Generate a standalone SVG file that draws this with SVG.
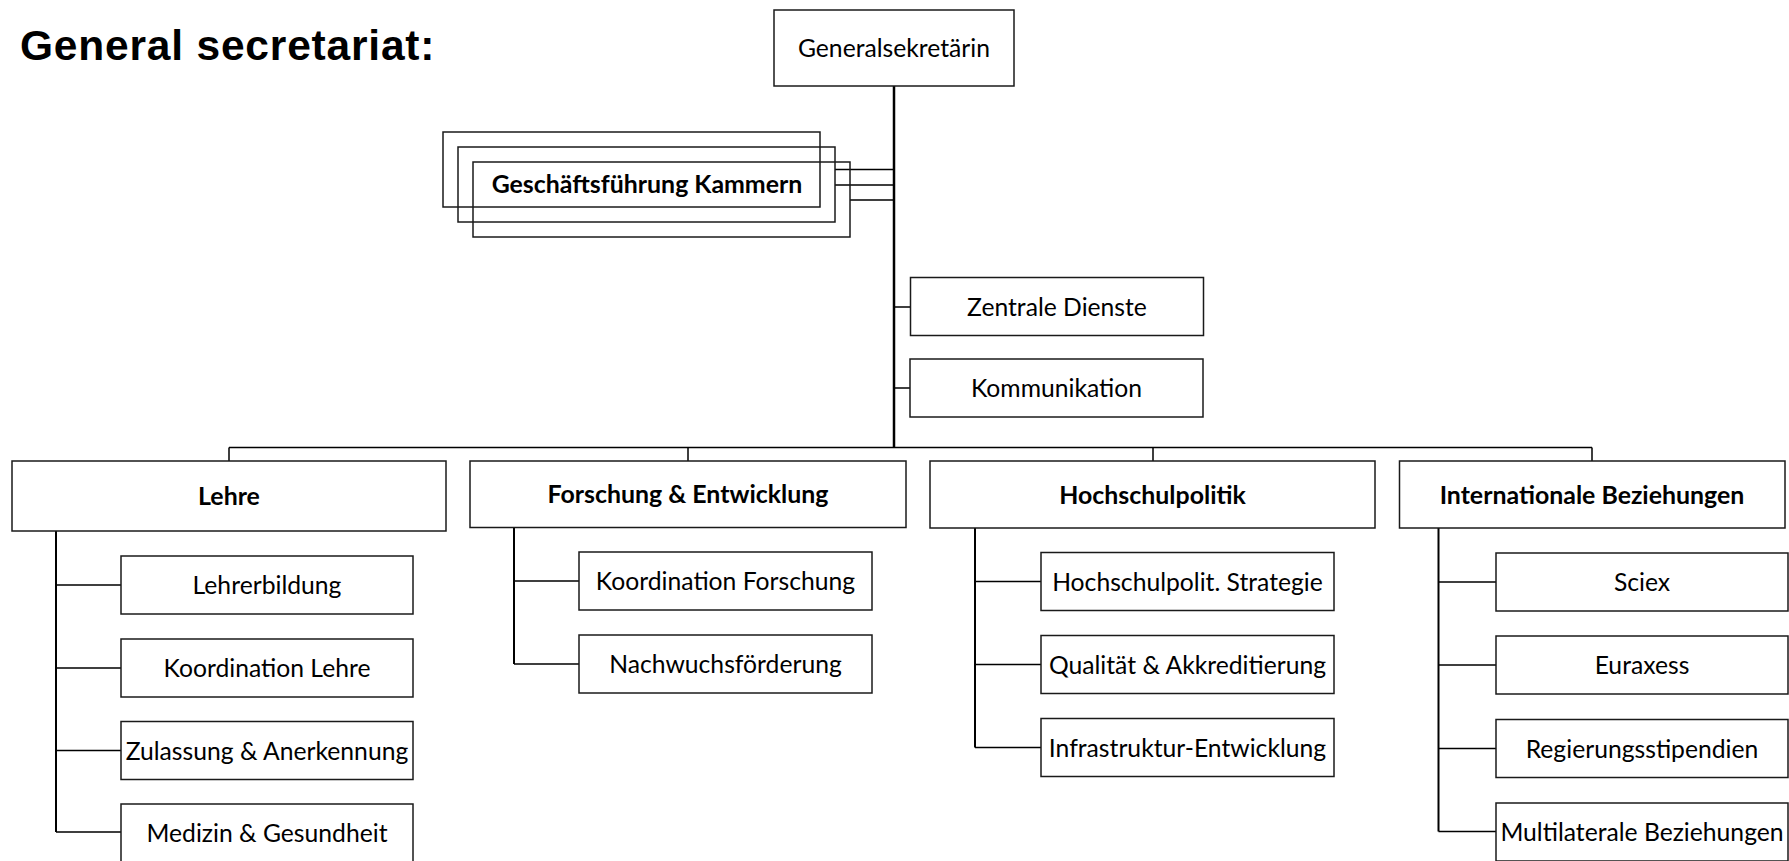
<svg xmlns="http://www.w3.org/2000/svg" width="1789" height="861" viewBox="0 0 1789 861">
<style>
.bg{fill:#fff}
.box{fill:#fff;stroke:#1a1a1a;stroke-width:1.5}
.stack{fill:none;stroke:#1a1a1a;stroke-width:1.5}
.t{font-family:Lato,"Liberation Sans",sans-serif;font-size:24.7px;text-anchor:middle;fill:#000}
.b{font-weight:bold;font-size:24.9px}
.title{font-family:"Liberation Sans",Arial,sans-serif;font-weight:bold;font-size:42.5px;letter-spacing:0.8px;fill:#000}
.c{stroke:#000;stroke-width:1.5;fill:none}
.trunk{stroke:#000;stroke-width:2.5;fill:none}
.sub{stroke:#000;stroke-width:2;fill:none}
</style>
<rect class="bg" x="0" y="0" width="1789" height="861"/>
<text class="title" x="20" y="60">General secretariat:</text>

<g id="connectors">
  <path class="trunk" d="M894 86 V448"/>
  <path class="c" d="M835 169.5 H894 M835 185 H894 M850 200 H894"/>
  <path class="c" d="M894 307 H910.5 M894 388 H910"/>
  <path class="c" d="M229 447.5 H1592 M229 447.5 V461 M688 447.5 V461 M1153 447.5 V461 M1592 447.5 V461"/>
  <path class="sub" d="M56 531 V832"/>
  <path class="c" d="M56 585 H121 M56 668 H121 M56 750.5 H121 M56 832 H121"/>
  <path class="sub" d="M514 527.5 V664"/>
  <path class="c" d="M514 581 H579 M514 664 H579"/>
  <path class="sub" d="M975 528 V747.5"/>
  <path class="c" d="M975 581.5 H1041 M975 664.5 H1041 M975 747.5 H1041"/>
  <path class="sub" d="M1438.5 528 V831.5"/>
  <path class="c" d="M1438.5 582 H1496 M1438.5 665 H1496 M1438.5 748.5 H1496 M1438.5 831.5 H1496"/>
</g>

<g id="generalsekretaerin">
  <rect class="box" x="774" y="10" width="240" height="76"/>
  <text class="t" x="894" y="57">Generalsekretärin</text>
</g>

<g id="geschaeftsfuehrung-kammern">
  <rect class="stack" x="443" y="132" width="377" height="75"/>
  <rect class="stack" x="458" y="147" width="377" height="75"/>
  <rect class="stack" x="473" y="162" width="377" height="75"/>
  <text class="t b" x="647" y="192.5">Geschäftsführung Kammern</text>
</g>

<g id="zentrale-dienste">
  <rect class="box" x="910.5" y="277.5" width="293" height="58"/>
  <text class="t" x="1057" y="315.5">Zentrale Dienste</text>
</g>
<g id="kommunikation">
  <rect class="box" x="910" y="359" width="293" height="58"/>
  <text class="t" x="1056.5" y="397">Kommunikation</text>
</g>

<g id="lehre">
  <rect class="box" x="12" y="461" width="434" height="70"/>
  <text class="t b" x="229" y="505">Lehre</text>
</g>
<g id="forschung">
  <rect class="box" x="470" y="461" width="436" height="66.5"/>
  <text class="t b" x="688" y="503">Forschung &amp; Entwicklung</text>
</g>
<g id="hochschulpolitik">
  <rect class="box" x="930" y="461" width="445" height="67"/>
  <text class="t b" x="1152.5" y="503.5">Hochschulpolitik</text>
</g>
<g id="internationale">
  <rect class="box" x="1399.5" y="461" width="385.5" height="67"/>
  <text class="t b" x="1592" y="503.5">Internationale Beziehungen</text>
</g>

<g id="lehrerbildung">
  <rect class="box" x="121" y="556" width="292" height="58"/>
  <text class="t" x="267" y="594">Lehrerbildung</text>
</g>
<g id="koordination-lehre">
  <rect class="box" x="121" y="639" width="292" height="58"/>
  <text class="t" x="267" y="677">Koordination Lehre</text>
</g>
<g id="zulassung">
  <rect class="box" x="121" y="721.5" width="292" height="58"/>
  <text class="t" x="267" y="759.5">Zulassung &amp; Anerkennung</text>
</g>
<g id="medizin">
  <rect class="box" x="121" y="804" width="292" height="58"/>
  <text class="t" x="267" y="841.5">Medizin &amp; Gesundheit</text>
</g>

<g id="koordination-forschung">
  <rect class="box" x="579" y="552" width="293" height="58"/>
  <text class="t" x="725.5" y="590">Koordination Forschung</text>
</g>
<g id="nachwuchsfoerderung">
  <rect class="box" x="579" y="635" width="293" height="58"/>
  <text class="t" x="725.5" y="673">Nachwuchsförderung</text>
</g>

<g id="hochschulpolit-strategie">
  <rect class="box" x="1041" y="552.5" width="293" height="58"/>
  <text class="t" x="1187.5" y="590.5">Hochschulpolit. Strategie</text>
</g>
<g id="qualitaet">
  <rect class="box" x="1041" y="635.5" width="293" height="58"/>
  <text class="t" x="1187.5" y="673.5">Qualität &amp; Akkreditierung</text>
</g>
<g id="infrastruktur">
  <rect class="box" x="1041" y="718.5" width="293" height="58"/>
  <text class="t" x="1187.5" y="756.5">Infrastruktur-Entwicklung</text>
</g>

<g id="sciex">
  <rect class="box" x="1496" y="553" width="292" height="58"/>
  <text class="t" x="1642" y="591">Sciex</text>
</g>
<g id="euraxess">
  <rect class="box" x="1496" y="636" width="292" height="58"/>
  <text class="t" x="1642" y="674">Euraxess</text>
</g>
<g id="regierungsstipendien">
  <rect class="box" x="1496" y="719.5" width="292" height="58"/>
  <text class="t" x="1642" y="757.5">Regierungsstipendien</text>
</g>
<g id="multilaterale">
  <rect class="box" x="1496" y="803" width="292" height="58"/>
  <text class="t" x="1642" y="841">Multilaterale Beziehungen</text>
</g>
</svg>
